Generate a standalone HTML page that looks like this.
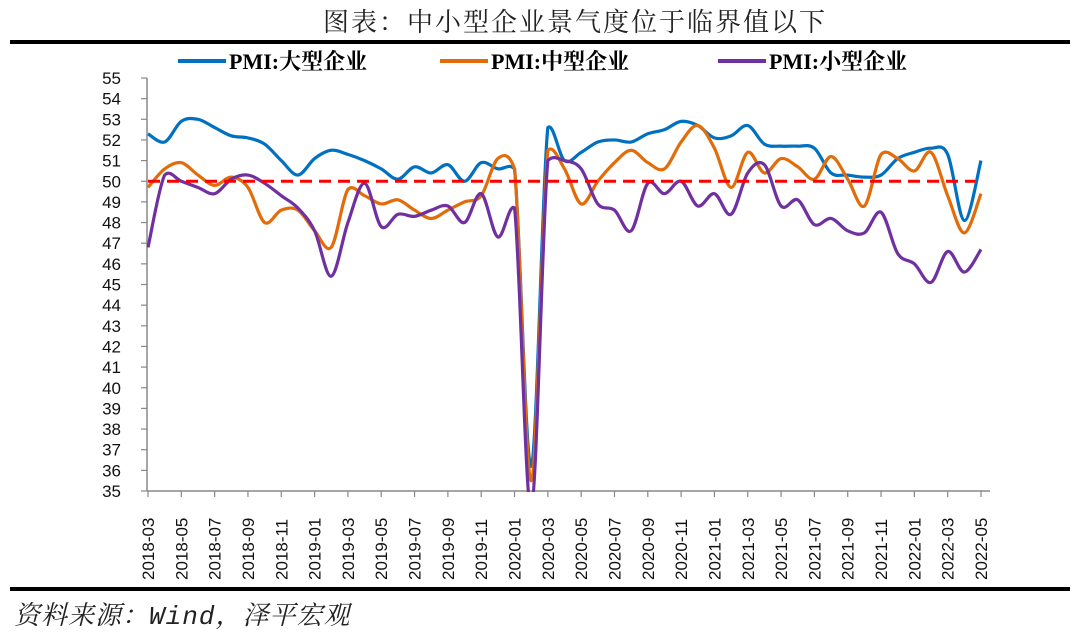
<!DOCTYPE html>
<html><head><meta charset="utf-8"><style>
html,body{margin:0;padding:0;background:#fff;width:1080px;height:637px;overflow:hidden}
svg{display:block}
</style></head><body>
<svg id="chart" width="1080" height="637" viewBox="0 0 1080 637" xmlns="http://www.w3.org/2000/svg">
<text x="575" y="31" text-anchor="middle" font-family="'Noto Serif CJK SC','Liberation Serif',serif" font-size="26" fill="#222" letter-spacing="2">图表：中小型企业景气度位于临界值以下</text>
<rect x="10" y="40" width="1060" height="4" fill="#000"/>
<g font-family="'Liberation Serif','Noto Serif CJK SC',serif" font-weight="bold" font-size="22">
 <g><line x1="178" y1="61" x2="226" y2="61" stroke="#0070C0" stroke-width="4"/><text x="229" y="69">PMI:大型企业</text></g>
 <g><line x1="440" y1="61" x2="488" y2="61" stroke="#E36C0A" stroke-width="4"/><text x="491" y="69">PMI:中型企业</text></g>
 <g><line x1="718" y1="61" x2="766" y2="61" stroke="#7030A0" stroke-width="4"/><text x="769" y="69">PMI:小型企业</text></g>
</g>
<g id="axes"></g>
<g id="plot" clip-path="url(#clip)"></g>
<defs><clipPath id="clip"><rect x="147" y="70" width="860" height="422"/></clipPath></defs>
<rect x="10" y="587" width="1060" height="4" fill="#000"/>
<text x="14" y="624" font-family="'Noto Serif CJK SC','Liberation Serif',serif" font-style="italic" font-size="26" fill="#222" letter-spacing="1">资料来源：<tspan font-family="'Liberation Mono',monospace">Wind</tspan>，泽平宏观</text>
</svg>
<script>
const startYear = 2018, startMonth = 3;
const large = [52.3,51.9,52.9,53.0,52.6,52.2,52.1,51.8,51.0,50.3,51.1,51.5,51.3,51.0,50.6,50.1,50.7,50.4,50.8,50.0,50.9,50.6,50.6,36.2,52.6,51.0,51.4,51.9,52.0,51.9,52.3,52.5,52.9,52.7,52.1,52.2,52.7,51.8,51.7,51.7,51.6,50.4,50.3,50.2,50.3,51.1,51.4,51.6,51.3,48.1,51.0];
const medium = [49.7,50.6,50.9,50.3,49.8,50.2,49.7,48.0,48.6,48.6,47.6,46.8,49.6,49.3,48.9,49.1,48.6,48.2,48.6,49.0,49.3,51.1,50.6,35.5,51.5,50.6,48.9,50.0,50.9,51.5,50.9,50.6,51.9,52.7,51.6,49.7,51.4,50.4,51.1,50.7,50.1,51.2,50.1,48.8,51.3,51.1,50.5,51.4,49.3,47.5,49.4];
const small = [46.8,50.3,50.0,49.7,49.4,50.1,50.3,49.9,49.3,48.7,47.6,45.4,48.0,49.9,47.8,48.4,48.3,48.6,48.8,48.0,49.4,47.3,48.7,34.1,51.0,51.0,50.6,48.9,48.6,47.6,49.9,49.4,50.0,48.8,49.4,48.4,50.4,50.8,48.8,49.1,47.9,48.2,47.6,47.5,48.5,46.5,46.0,45.1,46.6,45.6,46.7];
const yTicks = [35,36,37,38,39,40,41,42,43,44,45,46,47,48,49,50,51,52,53,54,55];
const threshold = [50];

const NS = "http://www.w3.org/2000/svg";
const X0 = 148, X1 = 981, Y0 = 491, Y1 = 78;
const n = large.length;
function xs(i){ return X0 + (X1 - X0) * i / (n - 1); }
function ys(v){ return Y0 - (v - 35) * (Y0 - Y1) / 20; }
function mk(tag, attrs, parent){ const e = document.createElementNS(NS, tag); for (const k in attrs) e.setAttribute(k, attrs[k]); parent.appendChild(e); return e; }
function label(i){ let m = startMonth - 1 + i; const y = startYear + Math.floor(m / 12); m = m % 12 + 1; return y + "-" + (m < 10 ? "0" + m : m); }

const axes = document.getElementById("axes");
const plot = document.getElementById("plot");
const yAxis = mk("line", {x1:147, y1:Y1, x2:147, y2:Y0, stroke:"#888", "stroke-width":1.5}, axes);


const xAxis = mk("line", {x1:147, y1:Y0, x2:990, y2:Y0, stroke:"#888", "stroke-width":1.5}, axes);


yTicks.forEach(v => {
  const y = ys(v);
  const t = mk("line", {x1:141, y1:y, x2:147, y2:y, stroke:"#888", "stroke-width":1.2}, axes);
  
  
  const tx = mk("text", {x:121, y:y + 6, "text-anchor":"end", "font-family":"'Liberation Sans',sans-serif", "font-size":17, fill:"#111"}, axes);
  
  
  tx.textContent = v;
});
for (let i = 0; i < n; i += 2) {
  const x = xs(i);
  const t = mk("line", {x1:x, y1:Y0, x2:x, y2:Y0 + 6, stroke:"#888", "stroke-width":1.2}, axes);
  
  
  const tx = mk("text", {x:0, y:0, transform:"translate(" + (x + 6) + ",580) rotate(-90)", "font-family":"'Liberation Sans',sans-serif", "font-size":17, fill:"#111"}, axes);
  
  
  tx.textContent = label(i);
}
function clampY(c, a, b){ const lo = Math.min(a, b) - 6, hi = Math.max(a, b) + 6; return Math.max(lo, Math.min(hi, c)); }
function smoothPath(arr){
  const p = arr.map((v, i) => [xs(i), ys(v)]);
  let d = "M" + p[0][0] + "," + p[0][1];
  for (let i = 0; i < p.length - 1; i++) {
    const p0 = p[Math.max(0, i - 1)], p1 = p[i], p2 = p[i + 1], p3 = p[Math.min(p.length - 1, i + 2)];
    const c1x = p1[0] + (p2[0] - p0[0]) / 6, c1y = clampY(p1[1] + (p2[1] - p0[1]) / 6, p1[1], p2[1]);
    const c2x = p2[0] - (p3[0] - p1[0]) / 6, c2y = clampY(p2[1] - (p3[1] - p1[1]) / 6, p1[1], p2[1]);
    d += " C" + c1x + "," + c1y + " " + c2x + "," + c2y + " " + p2[0] + "," + p2[1];
  }
  return d;
}
const ref = mk("line", {x1:148, y1:ys(threshold[0]), x2:975, y2:ys(threshold[0]), stroke:"#FF0000", "stroke-width":3, "stroke-dasharray":"12,7"}, plot);


const lg = mk("path", {d:smoothPath(large), fill:"none", stroke:"#0070C0", "stroke-width":3.2}, plot);


const md = mk("path", {d:smoothPath(medium), fill:"none", stroke:"#E36C0A", "stroke-width":3.2}, plot);


const sm = mk("path", {d:smoothPath(small), fill:"none", stroke:"#7030A0", "stroke-width":3.2}, plot);


plot.appendChild(ref);
</script>
</body></html>
